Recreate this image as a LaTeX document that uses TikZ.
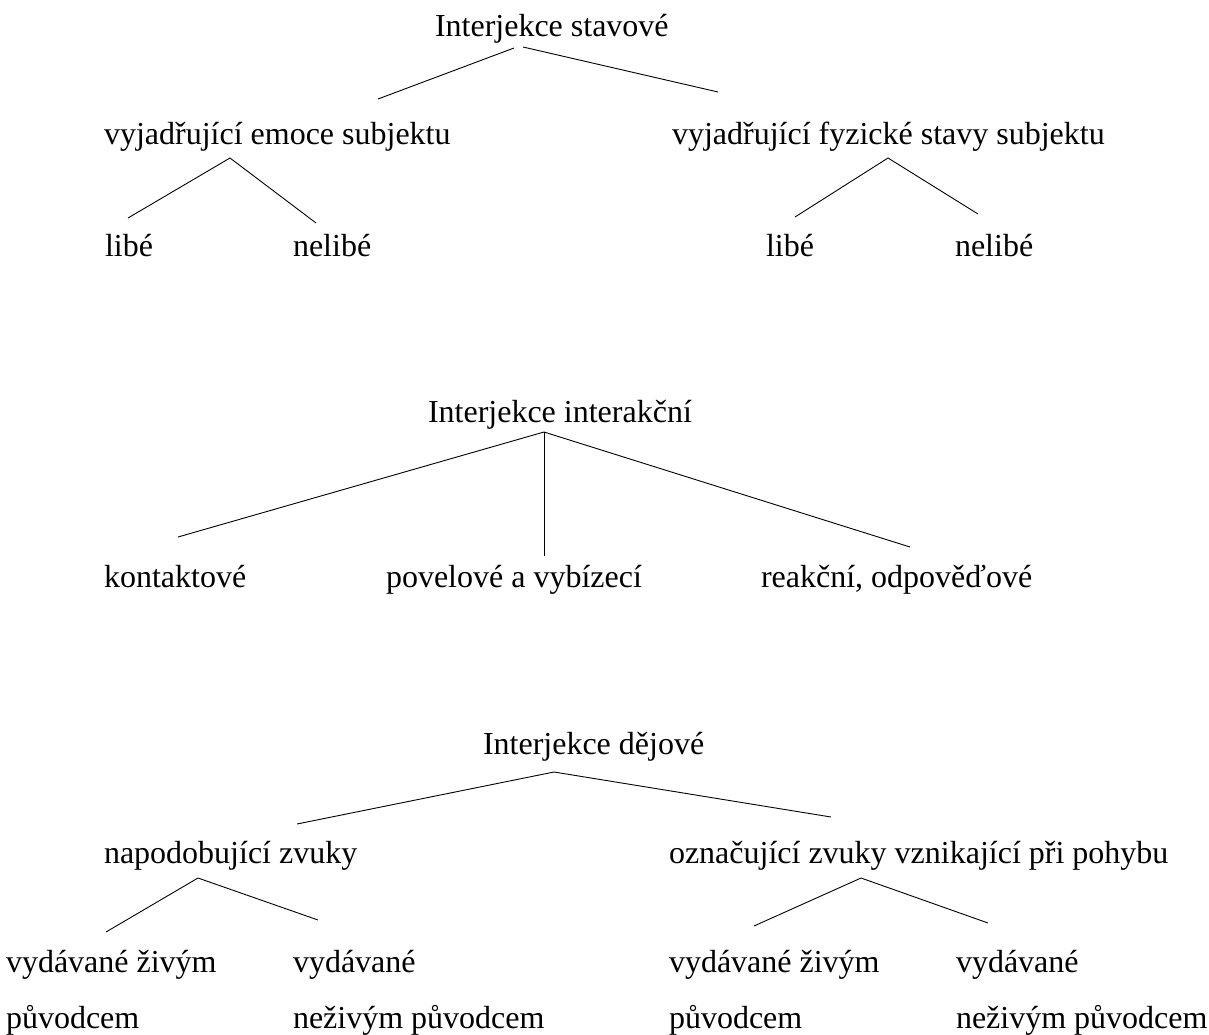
\documentclass[tikz,border=0pt]{standalone}
\usepackage{fontspec}
\setmainfont{Liberation Serif}
\tikzset{
  lbl/.style={anchor=base west, inner sep=0pt, outer sep=0pt, font=\fontsize{32}{38}\selectfont},
  edge/.style={draw=black, line width=0.9pt}
}
\begin{document}
\begin{tikzpicture}[x=1pt,y=-1pt]
\useasboundingbox[fill=white] (0,0) rectangle (1209,1035);
% --- Tree 1 ---
\node[lbl] (s0) at (435,37) {Interjekce stavové};
\node[lbl] (s1) at (104,145) {vyjadřující emoce subjektu};
\node[lbl] (s2) at (672,145) {vyjadřující fyzické stavy subjektu};
\node[lbl] (s11) at (105,256) {libé};
\node[lbl] (s12) at (293,256) {nelibé};
\node[lbl] (s21) at (766,256) {libé};
\node[lbl] (s22) at (955,256) {nelibé};
\coordinate (s0a) at (514,48);
\coordinate (s0b) at (523,47);
\coordinate (s1t) at (378,99);
\coordinate (s2t) at (718,92);
\coordinate (s1b) at (230,158);
\coordinate (s11t) at (128,218);
\coordinate (s12t) at (316,223);
\coordinate (s2b) at (888,158);
\coordinate (s21t) at (795,217);
\coordinate (s22t) at (978,214);
\draw[edge] (s0a) -- (s1t);
\draw[edge] (s0b) -- (s2t);
\draw[edge] (s11t) -- (s1b) -- (s12t);
\draw[edge] (s21t) -- (s2b) -- (s22t);
% --- Tree 2 ---
\node[lbl] (i0) at (428,422) {Interjekce interakční};
\node[lbl] (i1) at (104,587) {kontaktové};
\node[lbl] (i2) at (386,587) {povelové a vybízecí};
\node[lbl] (i3) at (761,587) {reakční, odpověďové};
\coordinate (i0b) at (544,432);
\coordinate (i1t) at (178,537);
\coordinate (i2t) at (544,556);
\coordinate (i3t) at (910,547);
\draw[edge] (i0b) -- (i1t);
\draw[edge] (i0b) -- (i2t);
\draw[edge] (i0b) -- (i3t);
% --- Tree 3 ---
\node[lbl] (d0) at (483,754) {Interjekce dějové};
\node[lbl] (d1) at (104,863) {napodobující zvuky};
\node[lbl] (d2) at (669,863) {označující zvuky vznikající při pohybu};
\node[lbl] (d11a) at (6,972) {vydávané živým};
\node[lbl] (d11b) at (6,1028) {původcem};
\node[lbl] (d12a) at (293,972) {vydávané};
\node[lbl] (d12b) at (293,1028) {neživým původcem};
\node[lbl] (d21a) at (669,972) {vydávané živým};
\node[lbl] (d21b) at (669,1028) {původcem};
\node[lbl] (d22a) at (956,972) {vydávané};
\node[lbl] (d22b) at (956,1028) {neživým původcem};
\coordinate (d0b) at (554,772);
\coordinate (d1t) at (297,824);
\coordinate (d2t) at (831,817);
\coordinate (d1b) at (198,878);
\coordinate (d11t) at (106,932);
\coordinate (d12t) at (318,920);
\coordinate (d2b) at (861,878);
\coordinate (d21t) at (754,926);
\coordinate (d22t) at (988,923);
\draw[edge] (d1t) -- (d0b) -- (d2t);
\draw[edge] (d11t) -- (d1b) -- (d12t);
\draw[edge] (d21t) -- (d2b) -- (d22t);
\end{tikzpicture}
\end{document}
